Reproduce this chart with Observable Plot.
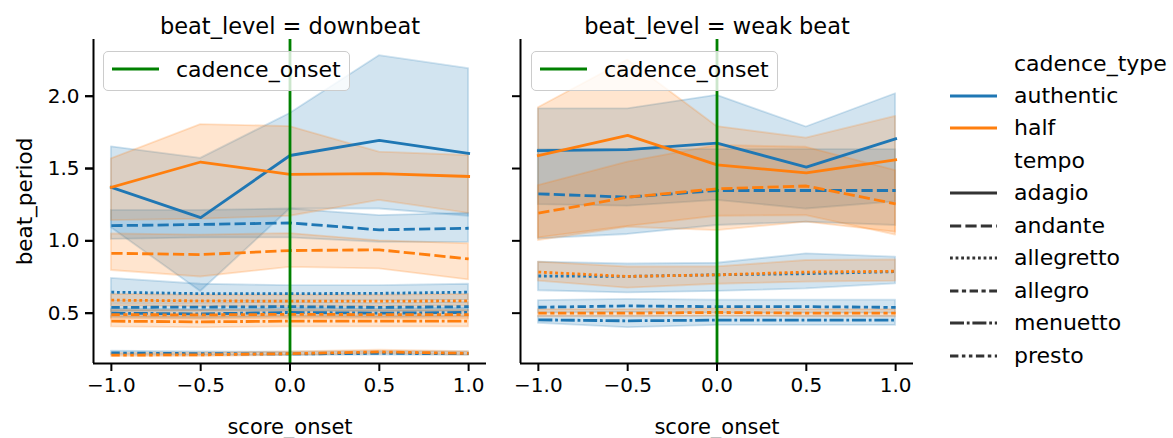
<!DOCTYPE html>
<html>
<head>
<meta charset="utf-8">
<script src="https://cdn.jsdelivr.net/npm/d3@7"></script>
<script src="https://cdn.jsdelivr.net/npm/@observablehq/plot@0.6"></script>
<style>
  html, body { margin: 0; padding: 0; background: #fff; }
  body { font-family: "DejaVu Sans", sans-serif; color: #000; }
  #wrap { position: relative; width: 1173px; height: 438px; overflow: hidden; }
  .abs { position: absolute; white-space: nowrap; }
  .lbl { font-size: 22px; line-height: 26px; transform: translateY(-50%); }
  .box { border: 1.5px solid #cccccc; border-radius: 5px; background: rgba(255,255,255,0.8); box-sizing: border-box; }
</style>
</head>
<body>
<div id="wrap"></div>
<script>
// ---------- data ----------
const xs = [-1, -0.5, 0, 0.5, 1];
const beatLevels = ["downbeat", "weak beat"];
const cadenceTypes = ["authentic", "half"];
const tempos = ["adagio", "andante", "allegretto", "allegro", "menuetto", "presto"];
const xTicks = [-1, -0.5, 0, 0.5, 1];
const yTicks = [0.5, 1.0, 1.5, 2.0];
const cadenceOnset = [0];

// rows follow `tempos`; null = no data for that tempo
const downAuthMean = [
  [1.37, 1.16, 1.59, 1.695, 1.605],
  [1.105, 1.113, 1.124, 1.076, 1.087],
  [0.645, 0.635, 0.635, 0.637, 0.645],
  [0.54, 0.542, 0.545, 0.54, 0.545],
  [0.50, 0.495, 0.505, 0.50, 0.505],
  [0.225, 0.22, 0.218, 0.222, 0.22]
];
const downAuthLow = [
  [1.09, 0.65, 1.22, 1.22, 1.17],
  [1.01, 1.02, 1.02, 0.99, 0.99],
  [0.58, 0.58, 0.585, 0.585, 0.59],
  [0.51, 0.515, 0.515, 0.51, 0.515],
  [0.47, 0.465, 0.475, 0.47, 0.475],
  [0.212, 0.208, 0.206, 0.21, 0.208]
];
const downAuthHigh = [
  [1.65, 1.57, 1.88, 2.28, 2.19],
  [1.21, 1.21, 1.22, 1.175, 1.19],
  [0.74, 0.70, 0.69, 0.69, 0.70],
  [0.57, 0.57, 0.575, 0.57, 0.575],
  [0.53, 0.525, 0.535, 0.53, 0.535],
  [0.238, 0.232, 0.23, 0.234, 0.232]
];
const downHalfMean = [
  [1.37, 1.545, 1.46, 1.465, 1.445],
  [0.914, 0.905, 0.933, 0.938, 0.875],
  [0.59, 0.585, 0.583, 0.583, 0.585],
  [0.49, 0.488, 0.492, 0.49, 0.49],
  [0.445, 0.44, 0.445, 0.445, 0.445],
  [0.21, 0.212, 0.22, 0.232, 0.222]
];
const downHalfLow = [
  [1.14, 1.15, 1.17, 1.28, 1.19],
  [0.795, 0.75, 0.817, 0.806, 0.73],
  [0.55, 0.545, 0.545, 0.545, 0.55],
  [0.46, 0.458, 0.462, 0.46, 0.46],
  [0.405, 0.40, 0.405, 0.405, 0.405],
  [0.2, 0.2, 0.208, 0.22, 0.21]
];
const downHalfHigh = [
  [1.567, 1.804, 1.79, 1.613, 1.59],
  [1.048, 1.04, 1.05, 1.0, 0.98],
  [0.63, 0.625, 0.625, 0.625, 0.63],
  [0.52, 0.518, 0.522, 0.52, 0.52],
  [0.48, 0.478, 0.48, 0.48, 0.48],
  [0.222, 0.224, 0.232, 0.244, 0.234]
];
const weakAuthMean = [
  [1.624, 1.63, 1.675, 1.51, 1.706],
  [1.325, 1.302, 1.348, 1.348, 1.348],
  [0.757, 0.754, 0.765, 0.773, 0.787],
  [0.541, 0.55, 0.545, 0.545, 0.54],
  [0.454, 0.447, 0.452, 0.452, 0.452],
  null
];
const weakAuthLow = [
  [1.014, 1.044, 1.106, 1.129, 1.106],
  [1.25, 1.24, 1.28, 1.22, 1.27],
  [0.655, 0.64, 0.65, 0.668, 0.703],
  [0.50, 0.505, 0.50, 0.50, 0.50],
  [0.43, 0.40, 0.415, 0.415, 0.415],
  null
];
const weakAuthHigh = [
  [1.913, 1.913, 2.006, 1.787, 2.017],
  [1.63, 1.63, 1.63, 1.63, 1.63],
  [0.853, 0.84, 0.845, 0.91, 0.887],
  [0.587, 0.595, 0.59, 0.59, 0.59],
  [0.48, 0.48, 0.48, 0.48, 0.48],
  null
];
const weakHalfMean = [
  [1.59, 1.729, 1.525, 1.47, 1.56],
  [1.191, 1.302, 1.36, 1.379, 1.256],
  [0.784, 0.754, 0.765, 0.784, 0.79],
  [0.50, 0.50, 0.505, 0.50, 0.50],
  null,
  null
];
const weakHalfLow = [
  [1.002, 1.094, 1.071, 1.129, 1.06],
  [1.02, 1.10, 1.17, 1.175, 1.04],
  [0.722, 0.673, 0.70, 0.715, 0.722],
  [0.475, 0.475, 0.48, 0.475, 0.475],
  null,
  null
];
const weakHalfHigh = [
  [1.92, 2.25, 1.79, 1.71, 1.86],
  [1.382, 1.544, 1.659, 1.647, 1.486],
  [0.853, 0.819, 0.82, 0.864, 0.868],
  [0.525, 0.525, 0.53, 0.525, 0.525],
  null,
  null
];

// ---------- build long table ----------
const sources = [
  ["downbeat", "authentic", downAuthMean, downAuthLow, downAuthHigh],
  ["downbeat", "half", downHalfMean, downHalfLow, downHalfHigh],
  ["weak beat", "authentic", weakAuthMean, weakAuthLow, weakAuthHigh],
  ["weak beat", "half", weakHalfMean, weakHalfLow, weakHalfHigh]
];
const rows = [];
for (const [bl, ct, M, L, H] of sources) {
  tempos.forEach((t, ti) => {
    if (!M[ti]) return;
    xs.forEach((x, xi) => rows.push({
      beat_level: bl, cadence_type: ct, tempo: t, x,
      mean: M[ti][xi], low: L[ti][xi], high: H[ti][xi]
    }));
  });
}

// ---------- style ----------
const colors = {authentic: "#1f77b4", half: "#ff7f0e"};
const LW = 2.8;
const dashUnits = {
  adagio: null,
  andante: [4, 1.5],
  allegretto: [1, 1],
  allegro: [3, 1.25, 1.5, 1.25],
  menuetto: [5, 1, 1, 1],
  presto: [3, 1.25, 1.25, 1.25, 1.25, 1.25]
};
const dashPx = t => dashUnits[t] ? dashUnits[t].map(d => (d * LW).toFixed(2)).join(",") : null;

const bandMarks = [];
const lineMarks = [];
for (const ct of cadenceTypes) {
  for (const t of tempos) {
    const data = rows.filter(r => r.cadence_type === ct && r.tempo === t);
    if (!data.length) continue;
    bandMarks.push(Plot.areaY(data, {
      x: "x", y1: "low", y2: "high", fx: "beat_level", z: "beat_level",
      fill: colors[ct], fillOpacity: 0.2,
      stroke: colors[ct], strokeOpacity: 0.2, strokeWidth: 1.8
    }));
    lineMarks.push(Plot.lineY(data, {
      x: "x", y: "mean", fx: "beat_level", z: "beat_level",
      stroke: colors[ct], strokeWidth: LW,
      strokeDasharray: dashPx(t),
      strokeLinecap: dashUnits[t] ? "butt" : "square",
      strokeLinejoin: "round"
    }));
  }
}
const marks = [...bandMarks, ...lineMarks];

const yDomain = [0.152, 2.392];
const xDomain = [-1.1, 1.1];

marks.push(Plot.ruleX(cadenceOnset, {stroke: "#008000", strokeWidth: LW}));
// spines
marks.push(Plot.ruleX([xDomain[0]], {stroke: "#000", strokeWidth: 2}));
marks.push(Plot.ruleY([yDomain[0]], {stroke: "#000", strokeWidth: 2}));
// axes
marks.push(Plot.axisX({
  ticks: xTicks, tickFormat: ".1f", tickSize: 8, tickPadding: 6,
  strokeWidth: 2, fontSize: 20, label: null
}));
marks.push(Plot.axisY({
  ticks: yTicks, tickFormat: () => "", tickSize: 8, strokeWidth: 2,
  label: null, facetAnchor: null
}));
marks.push(Plot.axisY({
  ticks: yTicks, tickFormat: ".1f", tickSize: 8, tickPadding: 6,
  strokeWidth: 2, fontSize: 20, label: null
}));
// facet titles and axis labels
marks.push(Plot.text(beatLevels, {
  fx: d => d, text: d => `beat_level = ${d}`,
  frameAnchor: "top", dy: -21, fontSize: 22.5
}));
marks.push(Plot.text(beatLevels, {
  fx: d => d, text: () => "score_onset",
  frameAnchor: "bottom", dy: 70, fontSize: 21
}));
marks.push(Plot.text([beatLevels[0]], {
  fx: d => d, text: () => "beat_period",
  frameAnchor: "left", textAnchor: "middle", dx: -68, rotate: -90, fontSize: 21.5
}));

const chart = Plot.plot({
  width: 1173,
  height: 438,
  marginLeft: 92,
  marginRight: 259,
  marginTop: 39,
  marginBottom: 75,
  style: {fontFamily: "DejaVu Sans", fontSize: "20px", background: "#fff", color: "#000", overflow: "visible"},
  fx: {domain: beatLevels, paddingInner: 0.0794, paddingOuter: 0, axis: null, label: null},
  x: {domain: xDomain, axis: null},
  y: {domain: yDomain, axis: null},
  marks
});

const wrap = document.getElementById("wrap");
wrap.appendChild(chart);

// ---------- legends (HTML) ----------
function addEl(html) {
  const d = document.createElement("div");
  d.innerHTML = html;
  const el = d.firstElementChild;
  wrap.appendChild(el);
  return el;
}
function lineSvg(color, dash, w = 47) {
  return `<svg width="${w}" height="8" style="display:block"><line x1="0" x2="${w}" y1="4" y2="4" stroke="${color}" stroke-width="${LW}" ${dash ? `stroke-dasharray="${dash}"` : ""}/></svg>`;
}
// in-panel "cadence_onset" legends
for (const left of [103, 531]) {
  addEl(`<div class="abs box" style="left:${left}px;top:51px;width:247px;height:40px;"></div>`);
  addEl(`<div class="abs" style="left:${left + 9}px;top:65px;">${lineSvg("#008000", null)}</div>`);
  addEl(`<div class="abs lbl" style="left:${left + 73}px;top:70px;">cadence_onset</div>`);
}
// right legend
const legendRows = [
  {text: "cadence_type"},
  {text: cadenceTypes[0], color: colors.authentic},
  {text: cadenceTypes[1], color: colors.half},
  {text: "tempo"},
  ...tempos.map(t => ({text: t, color: "#333333", dash: dashPx(t)}))
];
legendRows.forEach((r, i) => {
  const yc = 63.5 + i * 32.47;
  if (r.color) addEl(`<div class="abs" style="left:950px;top:${yc - 4}px;">${lineSvg(r.color, r.dash)}</div>`);
  addEl(`<div class="abs lbl" style="left:1014px;top:${yc}px;">${r.text}</div>`);
});
</script>
</body>
</html>
